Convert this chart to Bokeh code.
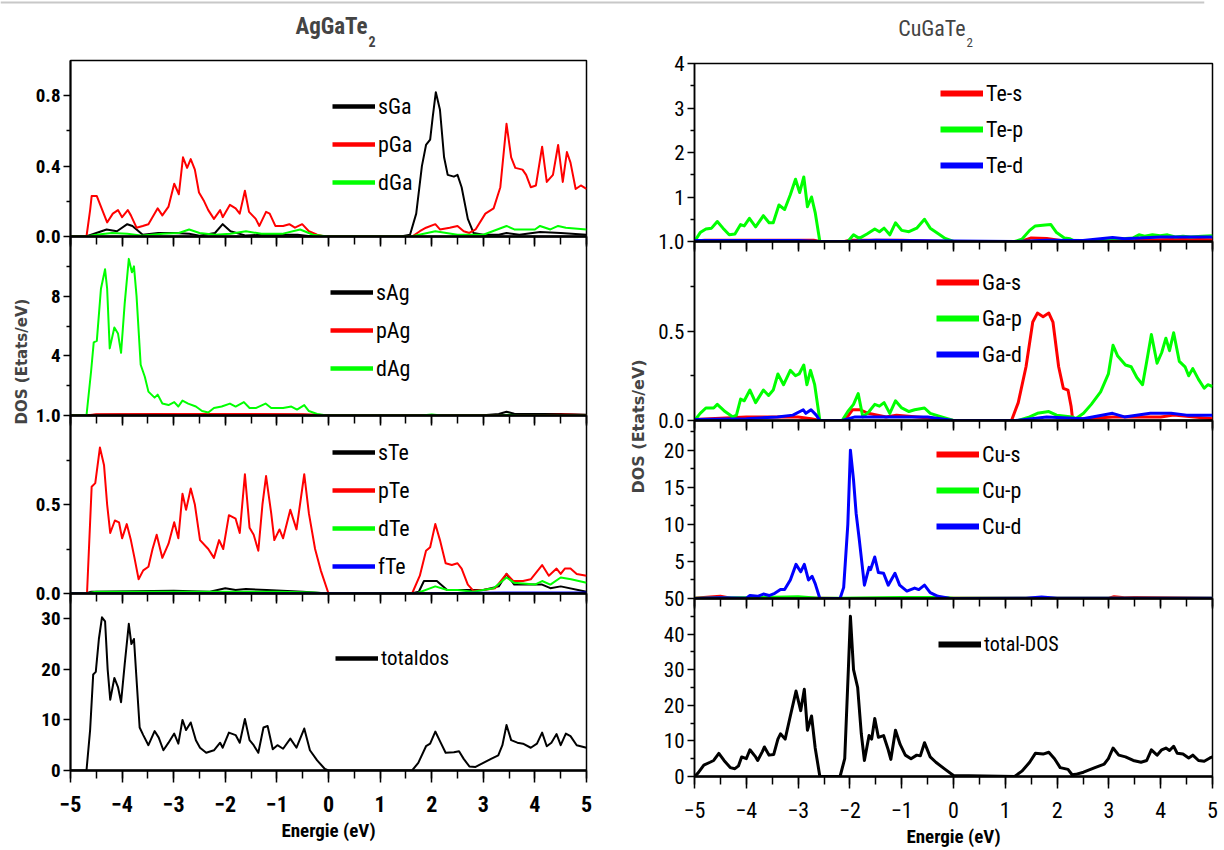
import math
from bokeh.plotting import figure
from bokeh.models import (Range1d, Legend, LegendItem, Label, Span, FixedTicker,
                          SingleIntervalTicker, PrintfTickFormatter, CustomJSTickFormatter)
from bokeh.layouts import row, column
from bokeh.embed import file_html
from bokeh.resources import INLINE

NARROW = "Roboto Condensed, DejaVu Sans Condensed, Liberation Sans Narrow, Roboto"
BLACK, RED, GREEN, BLUE = "#000000", "#ff0000", "#00ff00", "#0000ff"

# ---------------- AgGaTe2 : Ga partial DOS ----------------
e_sGa = [-5, -4.7, -4.5, -4.3, -4.1, -3.9, -3.8, -3.6, -3.3, -3.0, -2.7, -2.5, -2.2, -2.05, -1.9, -1.6,
         -1.3, -0.6, -0.3, 0, 1.4, 1.58, 1.7, 1.81, 1.89, 1.97, 2.02, 2.08, 2.16, 2.24, 2.31, 2.43,
         2.5, 2.58, 2.7, 2.81, 3.0, 3.3, 3.45, 3.7, 4.1, 4.5, 5.0]
dos_sGa = [0, 0, 0.02, 0.04, 0.03, 0.07, 0.06, 0.01, 0.02, 0.02, 0.015, 0.005, 0.02, 0.07, 0.03, 0.005,
           0.01, 0.01, 0.0, 0, 0, 0.01, 0.13, 0.40, 0.52, 0.55, 0.68, 0.82, 0.72, 0.45, 0.35, 0.34,
           0.35, 0.28, 0.10, 0.02, 0.01, 0.01, 0.02, 0.01, 0.025, 0.02, 0.01]
e_pGa = [-5, -4.69, -4.62, -4.59, -4.49, -4.29, -4.18, -4.08, -4.0, -3.89, -3.83, -3.72, -3.6, -3.49,
         -3.31, -3.22, -3.1, -2.99, -2.9, -2.82, -2.74, -2.67, -2.59, -2.51, -2.41, -2.33, -2.22, -2.1,
         -2.05, -1.91, -1.8, -1.72, -1.62, -1.54, -1.41, -1.34, -1.21, -1.14, -1.03, -0.88, -0.76,
         -0.65, -0.51, -0.38, -0.22, -0.07, 1.62, 1.77, 1.89, 2.07, 2.16, 2.35, 2.5, 2.62, 2.73, 2.85,
         3.04, 3.2, 3.33, 3.45, 3.54, 3.62, 3.76, 3.83, 3.92, 4.02, 4.14, 4.23, 4.35, 4.45, 4.54,
         4.62, 4.69, 4.79, 4.89, 5.0]
dos_pGa = [0, 0, 0.15, 0.23, 0.23, 0.08, 0.13, 0.15, 0.11, 0.15, 0.12, 0.05, 0.06, 0.07, 0.16, 0.12,
           0.17, 0.30, 0.24, 0.45, 0.39, 0.44, 0.38, 0.25, 0.20, 0.15, 0.10, 0.15, 0.11, 0.18, 0.16,
           0.13, 0.26, 0.14, 0.10, 0.06, 0.14, 0.13, 0.06, 0.06, 0.07, 0.05, 0.07, 0.03, 0.01, 0.0,
           0.0, 0.03, 0.05, 0.07, 0.04, 0.05, 0.06, 0.03, 0.02, 0.04, 0.13, 0.16, 0.28, 0.64, 0.45,
           0.39, 0.38, 0.35, 0.28, 0.29, 0.51, 0.31, 0.35, 0.52, 0.31, 0.48, 0.42, 0.27, 0.29, 0.27]
e_dGa = [-5, -4.7, -4.5, -4.2, -3.9, -3.6, -3.2, -2.9, -2.7, -2.5, -2.2, -1.9, -1.6, -1.3, -0.9, -0.55,
         -0.3, 0, 1.6, 2.07, 2.5, 3.0, 3.45, 3.6, 4.0, 4.1, 4.3, 4.45, 4.6, 5.0]
dos_dGa = [0, 0, 0.01, 0.02, 0.015, 0.005, 0.015, 0.02, 0.04, 0.02, 0.01, 0.015, 0.03, 0.015, 0.015,
           0.04, 0.01, 0, 0, 0.03, 0.01, 0.01, 0.06, 0.04, 0.04, 0.06, 0.04, 0.06, 0.05, 0.04]

# ---------------- AgGaTe2 : Ag partial DOS ----------------
e_sAg = [-5, -4.7, -4.5, -3.5, -3.3, -2.5, -1.5, -0.5, 0, 3.0, 3.3, 3.45, 3.6, 4.0, 4.5, 5.0]
dos_sAg = [0, 0, 0.05, 0.08, 0.1, 0.06, 0.06, 0.05, 0, 0.02, 0.1, 0.25, 0.12, 0.1, 0.1, 0.05]
e_pAg = [-5, -4.7, -4.5, -3.0, -1.5, -0.5, -0.2, 0, 4.0, 4.6, 5.0]
dos_pAg = [0, 0, 0.08, 0.1, 0.1, 0.08, 0.05, 0, 0.02, 0.06, 0.04]
e_dAg = [-5, -4.69, -4.6, -4.55, -4.49, -4.41, -4.33, -4.29, -4.24, -4.15, -4.08, -4.02, -3.95, -3.87,
         -3.81, -3.77, -3.72, -3.64, -3.56, -3.49, -3.37, -3.31, -3.22, -3.1, -2.99, -2.91, -2.83,
         -2.72, -2.57, -2.45, -2.33, -2.22, -2.07, -1.91, -1.8, -1.64, -1.53, -1.41, -1.22, -1.11,
         -0.99, -0.88, -0.72, -0.61, -0.47, -0.38, -0.22, -0.03, 1.8, 2.0, 2.2, 3.3, 3.5, 3.7, 5.0]
dos_dAg = [0, 0, 3.0, 4.9, 5.0, 8.5, 9.8, 8.5, 4.5, 5.9, 5.5, 4.2, 7.5, 10.5, 9.6, 10.0, 8.0, 3.4, 2.6,
           1.6, 1.2, 1.4, 0.8, 0.7, 0.9, 0.6, 1.0, 0.8, 0.6, 0.3, 0.2, 0.5, 0.6, 0.8, 0.6, 0.9, 0.5,
           0.5, 0.8, 0.5, 0.5, 0.5, 0.6, 0.4, 0.7, 0.3, 0.1, 0.0, 0.0, 0.06, 0.0, 0.0, 0.05, 0.0, 0.0]

# ---------------- AgGaTe2 : Te partial DOS ----------------
e_sTe = [-5, -4.7, -4.6, -3.0, -2.3, -2.0, -1.8, -1.6, -1.2, -0.5, 0, 1.6, 1.75, 1.85, 2.1, 2.3, 3.0,
         3.3, 3.45, 3.6, 4.14, 4.3, 4.5, 5.0]
dos_sTe = [0, 0, 0.01, 0.015, 0.01, 0.03, 0.02, 0.025, 0.02, 0.01, 0, 0, 0.01, 0.07, 0.07, 0.02, 0.02,
           0.04, 0.11, 0.05, 0.05, 0.03, 0.04, 0.01]
e_pTe = [-5, -4.68, -4.59, -4.52, -4.43, -4.35, -4.29, -4.23, -4.14, -4.06, -4.0, -3.91, -3.83, -3.76,
         -3.68, -3.59, -3.49, -3.41, -3.33, -3.22, -3.1, -2.99, -2.91, -2.83, -2.76, -2.67, -2.59,
         -2.49, -2.33, -2.22, -2.12, -2.04, -1.93, -1.8, -1.72, -1.62, -1.53, -1.45, -1.36, -1.28,
         -1.21, -1.11, -1.05, -0.95, -0.88, -0.74, -0.62, -0.47, -0.38, -0.26, -0.15, 0.0, 1.62, 1.77,
         1.89, 1.97, 2.07, 2.16, 2.27, 2.39, 2.5, 2.58, 2.7, 2.81, 3.0, 3.23, 3.45, 3.58, 3.77, 3.92,
         4.14, 4.27, 4.42, 4.5, 4.58, 4.69, 4.81, 5.0]
dos_pTe = [0, 0, 0.6, 0.62, 0.82, 0.72, 0.5, 0.34, 0.41, 0.4, 0.31, 0.39, 0.3, 0.2, 0.08, 0.13, 0.15,
           0.25, 0.33, 0.2, 0.28, 0.4, 0.31, 0.56, 0.47, 0.59, 0.5, 0.3, 0.25, 0.2, 0.3, 0.25, 0.44,
           0.42, 0.34, 0.67, 0.37, 0.33, 0.24, 0.5, 0.66, 0.45, 0.3, 0.36, 0.31, 0.47, 0.36, 0.67,
           0.45, 0.25, 0.13, 0.0, 0.0, 0.1, 0.24, 0.26, 0.39, 0.3, 0.17, 0.16, 0.17, 0.14, 0.05, 0.015,
           0.02, 0.03, 0.11, 0.07, 0.07, 0.08, 0.16, 0.1, 0.14, 0.11, 0.14, 0.14, 0.11, 0.1]
e_dTe = [-5, -4.7, -4.5, -3.0, -1.0, -0.3, 0, 1.7, 2.07, 2.3, 2.5, 2.8, 3.2, 3.45, 3.6, 4.0, 4.14,
         4.3, 4.5, 4.7, 5.0]
dos_dTe = [0, 0, 0.01, 0.01, 0.01, 0.005, 0, 0, 0.04, 0.02, 0.02, 0.01, 0.03, 0.09, 0.06, 0.05, 0.07,
           0.05, 0.09, 0.08, 0.06]
e_fTe = [-5, 0, 1.6, 3.4, 5.0]
dos_fTe = [0, 0.002, 0, 0.005, 0.005]

# ---------------- AgGaTe2 : total DOS ----------------
e_totAg = [-5, -4.69, -4.62, -4.56, -4.51, -4.45, -4.39, -4.33, -4.28, -4.23, -4.15, -4.08, -4.02,
           -3.95, -3.87, -3.82, -3.77, -3.72, -3.66, -3.59, -3.49, -3.37, -3.29, -3.2, -3.1, -2.99,
           -2.91, -2.83, -2.76, -2.67, -2.57, -2.49, -2.37, -2.22, -2.1, -2.05, -1.93, -1.8, -1.72,
           -1.62, -1.53, -1.45, -1.36, -1.26, -1.18, -1.08, -0.99, -0.88, -0.74, -0.62, -0.47, -0.36,
           -0.22, -0.07, 0.0, 1.62, 1.74, 1.89, 1.97, 2.07, 2.16, 2.27, 2.43, 2.53, 2.62, 2.73, 2.85,
           3.0, 3.15, 3.29, 3.37, 3.45, 3.54, 3.66, 3.77, 3.92, 4.04, 4.14, 4.23, 4.32, 4.42, 4.5,
           4.6, 4.69, 4.81, 5.0]
dos_totAg = [0, 0, 8, 19, 19.5, 26, 30.3, 29.5, 20, 14, 18.3, 16.5, 13.5, 21, 29, 25, 26, 18, 8.5, 7,
             5, 7.8, 6.5, 4.0, 5.5, 7.3, 5.3, 10, 8, 9.5, 6, 4.5, 3.5, 4.0, 5.5, 4.5, 7.5, 7, 5.5,
             10.2, 6, 5, 3.5, 8.5, 8.8, 4.2, 5, 4.3, 6.3, 4.5, 8.3, 4, 2, 0.3, 0, 0, 1.5, 4.8, 5.3,
             7.7, 5.8, 3.5, 3.6, 3.8, 2.3, 0.8, 0.7, 1.5, 2.3, 3, 5, 9, 6, 5.5, 5.3, 4.5, 5.3, 7.5,
             4.8, 5.5, 7.2, 5, 7.3, 6.8, 5, 4.5]

# ---------------- CuGaTe2 : Te partial DOS ----------------
e_Tes = [-5, -4.8, -2.7, -2.58, -2.1, -2.0, -1.0, -0.5, 0, 1.3, 1.5, 1.8, 2.1, 2.4, 3.5, 4.0, 4.5, 5.0]
dos_Tes = [0.01, 0.03, 0.03, 0.0, 0.0, 0.03, 0.03, 0.01, 0, 0, 0.08, 0.07, 0.02, 0.01, 0.02, 0.04,
           0.05, 0.04]
e_Tep = [-5, -4.89, -4.78, -4.67, -4.56, -4.45, -4.33, -4.22, -4.11, -4.04, -3.94, -3.82, -3.67,
         -3.56, -3.48, -3.37, -3.26, -3.15, -3.05, -2.97, -2.89, -2.82, -2.74, -2.67, -2.58, -2.04,
         -1.93, -1.82, -1.67, -1.52, -1.43, -1.34, -1.23, -1.12, -1.0, -0.86, -0.71, -0.56, -0.45,
         -0.3, -0.16, 0.0, 1.18, 1.32, 1.47, 1.58, 1.77, 1.88, 1.99, 2.14, 2.25, 2.36, 2.58, 2.88,
         3.07, 3.25, 3.47, 3.58, 3.69, 3.84, 3.99, 4.13, 4.28, 4.43, 4.58, 4.8, 5.0]
dos_Tep = [0.0, 0.2, 0.28, 0.3, 0.45, 0.3, 0.15, 0.17, 0.38, 0.35, 0.52, 0.33, 0.58, 0.42, 0.42, 0.82,
           0.72, 1.05, 1.4, 1.1, 1.45, 0.78, 1.0, 0.65, 0.0, 0.0, 0.15, 0.07, 0.17, 0.28, 0.22, 0.3,
           0.15, 0.42, 0.25, 0.22, 0.3, 0.5, 0.3, 0.18, 0.07, 0.0, 0.0, 0.05, 0.25, 0.35, 0.37, 0.38,
           0.2, 0.08, 0.06, 0.0, 0.02, 0.03, 0.07, 0.06, 0.08, 0.15, 0.12, 0.15, 0.13, 0.15, 0.1,
           0.12, 0.1, 0.12, 0.13]
e_Ted = [-5, -3.0, -2.58, -2.1, -1.5, 0, 1.2, 1.8, 2.5, 3.07, 3.3, 3.6, 4.0, 4.5, 5.0]
dos_Ted = [0.02, 0.02, 0.0, 0.0, 0.03, 0.01, 0.0, 0.03, 0.02, 0.09, 0.06, 0.08, 0.1, 0.1, 0.1]

# ---------------- CuGaTe2 : Ga partial DOS ----------------
e_Gas = [-5, -4.0, -3.0, -2.75, -2.58, -2.1, -2.0, -1.95, -1.8, -1.65, -1.3, -1.1, -0.7, -0.3, 0,
         1.12, 1.25, 1.4, 1.53, 1.62, 1.73, 1.84, 1.92, 2.03, 2.12, 2.21, 2.27, 2.3, 3.07, 4.0, 4.25,
         5.0]
dos_Gas = [0.005, 0.02, 0.02, 0.01, 0.0, 0.0, 0.04, 0.06, 0.06, 0.04, 0.02, 0.03, 0.02, 0.01, 0, 0.0,
           0.1, 0.3, 0.55, 0.6, 0.58, 0.6, 0.55, 0.3, 0.18, 0.17, 0.08, 0.005, 0.02, 0.02, 0.03, 0.01]
e_Gap = [-5, -4.89, -4.78, -4.63, -4.56, -4.41, -4.26, -4.19, -4.11, -4.04, -3.93, -3.82, -3.67,
         -3.57, -3.48, -3.39, -3.28, -3.15, -3.05, -2.98, -2.89, -2.83, -2.76, -2.68, -2.58, -2.15,
         -2.04, -1.93, -1.84, -1.75, -1.63, -1.52, -1.43, -1.34, -1.23, -1.12, -1.0, -0.86, -0.75,
         -0.56, -0.45, -0.23, 0.0, 1.25, 1.47, 1.62, 1.84, 1.99, 2.29, 2.36, 2.51, 2.66, 2.84, 2.99,
         3.08, 3.17, 3.32, 3.43, 3.54, 3.65, 3.73, 3.82, 3.93, 4.02, 4.1, 4.17, 4.25, 4.36, 4.47,
         4.54, 4.62, 4.73, 4.84, 4.91, 5.0]
dos_Gap = [0.0, 0.04, 0.07, 0.07, 0.09, 0.05, 0.02, 0.03, 0.12, 0.11, 0.17, 0.1, 0.17, 0.14, 0.17,
           0.26, 0.2, 0.28, 0.25, 0.26, 0.31, 0.2, 0.28, 0.2, 0.0, 0.0, 0.05, 0.09, 0.15, 0.02, 0.05,
           0.09, 0.08, 0.1, 0.04, 0.11, 0.07, 0.05, 0.06, 0.07, 0.04, 0.02, 0.0, 0.0, 0.02, 0.04,
           0.05, 0.03, 0.02, 0.01, 0.04, 0.09, 0.16, 0.26, 0.42, 0.36, 0.31, 0.3, 0.24, 0.2, 0.33,
           0.48, 0.32, 0.38, 0.46, 0.39, 0.49, 0.33, 0.3, 0.25, 0.29, 0.23, 0.18, 0.2, 0.19]
e_Gad = [-5, -4.0, -3.4, -3.1, -2.9, -2.85, -2.75, -2.65, -2.58, -2.15, -1.9, -1.5, -1.0, -0.5, 0,
         1.2, 1.8, 2.5, 3.07, 3.3, 3.8, 4.2, 4.5, 5.0]
dos_Gad = [0.005, 0.01, 0.02, 0.03, 0.06, 0.04, 0.06, 0.03, 0.0, 0.0, 0.02, 0.02, 0.02, 0.02, 0, 0.0,
           0.02, 0.01, 0.04, 0.02, 0.04, 0.04, 0.03, 0.03]

# ---------------- CuGaTe2 : Cu partial DOS ----------------
e_Cus = [-5, -4.7, -4.5, -4.3, -2.6, -2.2, 0, 3.0, 3.1, 3.3, 3.5, 5.0]
dos_Cus = [0.05, 0.2, 0.3, 0.05, 0.05, 0.0, 0.02, 0.05, 0.25, 0.1, 0.15, 0.05]
e_Cup = [-5, -4.0, -3.0, -2.6, -2.2, -1.0, -0.2, 0, 5.0]
dos_Cup = [0.02, 0.1, 0.25, 0.05, 0.05, 0.15, 0.15, 0.02, 0.02]
e_Cud = [-5, -4.5, -4.0, -3.93, -3.78, -3.67, -3.56, -3.45, -3.34, -3.26, -3.15, -3.04, -2.95, -2.88,
         -2.8, -2.73, -2.67, -2.58, -2.19, -2.12, -2.04, -1.99, -1.93, -1.88, -1.82, -1.72, -1.63,
         -1.6, -1.52, -1.45, -1.35, -1.26, -1.13, -1.04, -0.9, -0.75, -0.67, -0.56, -0.45, -0.3,
         -0.08, 0.0, 1.4, 1.7, 2.0, 5.0]
dos_Cud = [0.0, 0.1, 0.05, 0.4, 0.3, 0.6, 0.4, 0.7, 1.2, 1.2, 2.5, 4.6, 3.6, 4.6, 2.5, 3.0, 2.0, 0.0,
           0.0, 1.5, 10, 20, 16, 11.5, 8, 1.8, 4.2, 3.9, 5.6, 3.5, 3.4, 1.8, 3.4, 1.8, 1.0, 1.4, 1.2,
           1.8, 0.8, 0.3, 0.05, 0.0, 0.05, 0.2, 0.05, 0.05]

# ---------------- CuGaTe2 : total DOS ----------------
e_totCu = [-5, -4.93, -4.82, -4.7, -4.63, -4.53, -4.43, -4.31, -4.22, -4.15, -4.09, -4.0, -3.93, -3.82,
           -3.78, -3.69, -3.65, -3.56, -3.47, -3.39, -3.34, -3.25, -3.15, -3.04, -2.95, -2.88, -2.82,
           -2.74, -2.67, -2.58, -2.19, -2.1, -2.03, -1.99, -1.93, -1.85, -1.78, -1.72, -1.63, -1.58,
           -1.52, -1.45, -1.35, -1.26, -1.21, -1.12, -1.03, -0.93, -0.82, -0.71, -0.64, -0.56, -0.45,
           -0.34, -0.16, 0.0, 1.18, 1.32, 1.47, 1.58, 1.73, 1.84, 1.95, 2.06, 2.21, 2.29, 2.36, 2.51,
           2.73, 2.91, 2.99, 3.08, 3.19, 3.32, 3.47, 3.62, 3.73, 3.82, 3.93, 4.02, 4.1, 4.17, 4.25,
           4.32, 4.43, 4.54, 4.62, 4.73, 4.84, 4.95, 5.0]
dos_totCu = [0, 1, 3.2, 4, 4.5, 6.5, 4.5, 2.5, 2.2, 3, 5.5, 5, 7.5, 5.5, 4.5, 7, 8.3, 6, 6.2, 10.5, 12,
             10.5, 17, 24, 18.5, 24.5, 13, 17, 8, 0, 0, 5, 30, 45, 30, 25, 12, 4.5, 11.5, 10.5, 16.3,
             11, 11.5, 7.5, 4.8, 13, 9, 6, 5, 6, 5.8, 9.5, 5.5, 4, 2, 0.3, 0, 1.5, 4, 6.5, 6.3, 6.8,
             5, 2.5, 2.0, 0.5, 0.6, 1.2, 2.5, 3.5, 5, 8, 6, 5.5, 4.5, 4, 4.5, 7.5, 6, 7.5, 8, 7.3,
             8.5, 6.5, 6.3, 5.2, 6, 4.5, 4.3, 5.2, 5.5]

energy_axis_title = "Energie (eV)"
dos_axis_title = "DOS (Etats/eV)"

INNER_TOP, INNER_BOTTOM = 12, 14
OVERLAP = INNER_TOP + INNER_BOTTOM  # stacked figures share their border strips
LEG_ROW = 28


def dos_panel(width, frame_h, top, bottom, border_left, border_right, y_end, ticks, minor_ticks,
              fmt, bold, label_size, x_label_size, curve_w, series, leg_xy, leg_spacing, leg_line_w,
              leg_font, is_bottom, first):
    kw = dict(width=width, height=top + frame_h + bottom,
              x_range=Range1d(-5, 5), y_range=Range1d(0, y_end),
              output_backend="svg", toolbar_location=None, tools="", title=None,
              min_border_left=border_left, min_border_right=border_right,
              min_border_top=top, min_border_bottom=bottom,
              background_fill_color=None, border_fill_color=None,
              outline_line_color="black", outline_line_width=1.5)
    if not first:
        kw["margin"] = (-OVERLAP, 0, 0, 0)
    p = figure(**kw)
    p.grid.visible = False
    weight = "bold" if bold else "normal"

    xa = p.xaxis[0]
    xa.ticker = SingleIntervalTicker(interval=1, num_minor_ticks=2)
    xa.axis_line_width = 2.5
    xa.major_tick_in = 0
    xa.minor_tick_in = 0
    xa.major_tick_line_width = 1.5
    xa.minor_tick_line_width = 1.5
    if is_bottom:
        xa.major_tick_out = 12
        xa.minor_tick_out = 8
        xa.major_label_text_font = NARROW
        xa.major_label_text_font_style = weight
        xa.major_label_text_font_size = x_label_size
        xa.major_label_text_color = "black"
        xa.major_label_standoff = 13
        xa.axis_label = energy_axis_title
        xa.axis_label_text_font = NARROW
        xa.axis_label_text_font_style = "bold"
        xa.axis_label_text_font_size = "19px"
        xa.axis_label_text_color = "black"
        xa.axis_label_standoff = 4
    else:
        xa.major_tick_out = 10
        xa.minor_tick_out = 8
        xa.formatter = CustomJSTickFormatter(code="return ''")
        xa.major_label_standoff = 0

    ya = p.yaxis[0]
    ya.ticker = FixedTicker(ticks=ticks, minor_ticks=minor_ticks)
    ya.formatter = PrintfTickFormatter(format=fmt)
    ya.axis_line_width = 2 if bold else 1.5
    ya.major_tick_in = 0
    ya.minor_tick_in = 0
    ya.major_tick_out = 7
    ya.minor_tick_out = 4
    ya.major_tick_line_width = 1.5
    ya.minor_tick_line_width = 1.5
    ya.major_label_text_font = NARROW
    ya.major_label_text_font_style = weight
    ya.major_label_text_font_size = label_size
    ya.major_label_text_color = "black"
    ya.major_label_standoff = 3

    for name, e, d, color in series:
        p.line(x=e, y=d, line_color=color, line_width=curve_w, line_join="round")
    items = []
    for name, e, d, color in series:
        key = p.line(x=[float("nan")], y=[float("nan")], line_color=color, line_width=leg_line_w)
        items.append(LegendItem(label=name, renderers=[key]))
    leg = Legend(items=items, location=leg_xy, glyph_width=43, glyph_height=LEG_ROW,
                 label_height=LEG_ROW, spacing=leg_spacing, padding=0, margin=0, label_standoff=3,
                 border_line_color=None, background_fill_alpha=0,
                 label_text_font=NARROW, label_text_font_size=leg_font, label_text_color="black")
    p.add_layout(leg)
    return p


# -------- AgGaTe2 stack (frames 60-236-415-593-770) --------
LW, LB, LR = 570, 40, 14
ag1 = dos_panel(LW, 176, 8, INNER_BOTTOM, LB, LR, 1.0, [0, 0.4, 0.8], [0.2, 0.6], "%.1f", True,
                "19px", "22px", 2,
                [("sGa", e_sGa, dos_sGa, BLACK), ("pGa", e_pGa, dos_pGa, RED),
                 ("dGa", e_dGa, dos_dGa, GREEN)], (262, 40), 10, 4.5, "22px", False, True)
ag2 = dos_panel(LW, 179, INNER_TOP, INNER_BOTTOM, LB, LR, 12, [4, 8], [2, 6, 10], "%d", True,
                "19px", "22px", 2,
                [("sAg", e_sAg, dos_sAg, BLACK), ("pAg", e_pAg, dos_pAg, RED),
                 ("dAg", e_dAg, dos_dAg, GREEN)], (260, 33), 10, 4.5, "22px", False, False)
ag3 = dos_panel(LW, 178, INNER_TOP, INNER_BOTTOM, LB, LR, 1.0, [0, 0.5, 1.0], [0.25, 0.75], "%.1f",
                True, "19px", "22px", 2,
                [("sTe", e_sTe, dos_sTe, BLACK), ("pTe", e_pTe, dos_pTe, RED),
                 ("dTe", e_dTe, dos_dTe, GREEN), ("fTe", e_fTe, dos_fTe, BLUE)],
                (262, 13), 10, 4.5, "22px", False, False)
ag4 = dos_panel(LW, 177, INNER_TOP, 80, LB, LR, 35, [0, 10, 20, 30], [], "%d", True, "19px", "22px", 2,
                [("totaldos", e_totAg, dos_totAg, BLACK)], (265, 98), 10, 4.5, "21px", True, False)

# -------- CuGaTe2 stack (frames 63-241-420-598-776) --------
RW, RB, RR = 569, 36, 12
cu1 = dos_panel(RW, 178, 11, INNER_BOTTOM, RB, RR, 4, [1, 2, 3, 4], [0.5, 1.5, 2.5, 3.5], "%d", False,
                "21px", "22px", 3,
                [("Te-s", e_Tes, dos_Tes, RED), ("Te-p", e_Tep, dos_Tep, GREEN),
                 ("Te-d", e_Ted, dos_Ted, BLUE)], (246, 62), 8, 6, "22px", False, True)
cu2 = dos_panel(RW, 179, INNER_TOP, INNER_BOTTOM, RB, RR, 1.0, [0, 0.5, 1.0], [0.25, 0.75], "%.1f",
                False, "21px", "22px", 3,
                [("Ga-s", e_Gas, dos_Gas, RED), ("Ga-p", e_Gap, dos_Gap, GREEN),
                 ("Ga-d", e_Gad, dos_Gad, BLUE)], (242, 52), 8, 6, "22px", False, False)
cu3 = dos_panel(RW, 178, INNER_TOP, INNER_BOTTOM, RB, RR, 24, [5, 10, 15, 20],
                [2.5, 7.5, 12.5, 17.5, 22.5], "%d", False, "21px", "22px", 3,
                [("Cu-s", e_Cus, dos_Cus, RED), ("Cu-p", e_Cup, dos_Cup, GREEN),
                 ("Cu-d", e_Cud, dos_Cud, BLUE)], (242, 58), 8, 6, "22px", False, False)
cu4 = dos_panel(RW, 178, INNER_TOP, 74, RB, RR, 50, [0, 10, 20, 30, 40, 50], [5, 15, 25, 35, 45], "%d",
                False, "21px", "22px", 3,
                [("total-DOS", e_totCu, dos_totCu, BLACK)], (244, 118), 8, 6, "20px", True, False)


def blank(width, height):
    f = figure(width=width, height=height, x_range=Range1d(0, width), y_range=Range1d(height, 0),
               output_backend="svg", toolbar_location=None, tools="", title=None,
               x_axis_location=None, y_axis_location=None,
               min_border_left=0, min_border_right=0, min_border_top=0, min_border_bottom=0,
               background_fill_color=None, border_fill_color=None, outline_line_color=None)
    f.grid.visible = False
    return f


# header strip: separator line and the two compound names
head = figure(width=1224, height=52, x_range=Range1d(0, 1204), y_range=Range1d(52, 0),
              output_backend="svg", toolbar_location=None, tools="", title=None,
              x_axis_location=None, y_axis_location=None,
              min_border_left=0, min_border_right=20, min_border_top=0, min_border_bottom=0,
              background_fill_color=None, border_fill_color=None, outline_line_color=None)
head.grid.visible = False
head.add_layout(Span(location=2, dimension="width", line_color="#c8c8c8", line_width=2))
head.add_layout(Label(x=367, y=26, text="AgGaTe", text_align="right", text_baseline="middle",
                      text_font=NARROW, text_font_style="bold", text_font_size="23px"))
head.add_layout(Label(x=368, y=41, text="2", text_align="left", text_baseline="middle",
                      text_font=NARROW, text_font_style="bold", text_font_size="14px"))
head.add_layout(Label(x=965, y=28, text="CuGaTe", text_align="right", text_baseline="middle",
                      text_font=NARROW, text_font_size="22px"))
head.add_layout(Label(x=966, y=42, text="2", text_align="left", text_baseline="middle",
                      text_font=NARROW, text_font_size="13px"))

labL = blank(30, 798)
labL.add_layout(Label(x=21, y=309, text=dos_axis_title, angle=math.pi / 2, text_align="center",
                      text_baseline="middle", text_font="DejaVu Sans", text_font_style="bold",
                      text_font_size="15px"))
labR = blank(55, 798)
labR.add_layout(Label(x=38, y=374, text=dos_axis_title, angle=math.pi / 2, text_align="center",
                      text_baseline="middle", text_font="DejaVu Sans", text_font_style="bold",
                      text_font_size="16px"))

layout = column(head, row(labL, column(ag1, ag2, ag3, ag4), labR, column(cu1, cu2, cu3, cu4)))

open("out.html", "w").write(file_html(layout, INLINE))
